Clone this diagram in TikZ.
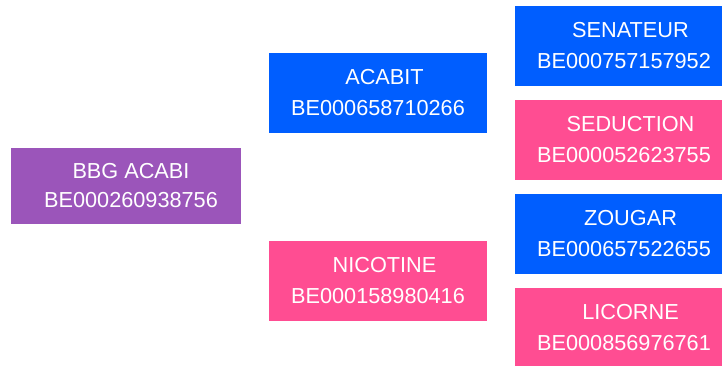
\documentclass[tikz,border=0pt]{standalone}
\usepackage{fontspec}
\setmainfont{Liberation Sans}
\definecolor{shareblue}{RGB}{0,94,255}
\definecolor{sharepink}{RGB}{255,77,146}
\definecolor{sharepurple}{RGB}{155,85,186}
\newcommand{\sharename}[1]{\hspace*{13pt}#1}
\tikzset{
	share/.style={inner sep=0pt, text=white, align=center, font=\fontsize{21.7}{31}\selectfont,
		minimum width=218pt, minimum height=80pt},
	bluebox/.style={share, fill=shareblue},
	pinkbox/.style={share, fill=sharepink},
	purplebox/.style={share, fill=sharepurple, minimum width=230pt, minimum height=76pt,
		font=\fontsize{21.7}{29}\selectfont}
}
\begin{document}
\begin{tikzpicture}[x=1pt, y=-1pt]
		\useasboundingbox (0,0) rectangle (722,365);
		
		\node (BBG) at (126,185.5) [purplebox] {\hspace*{10pt}BBG ACABI\\\hspace*{10pt}BE000260938756};
		
		\node (ACA) at (378,92.5) [bluebox] {\sharename{ACABIT}\\BE000658710266};
		\node (NIC) at (378,281) [pinkbox] {\sharename{NICOTINE}\\BE000158980416};
		
		\node (SEN) at (624,45.5) [bluebox] {\sharename{SENATEUR}\\BE000757157952};
		\node (SED) at (624,139.5) [pinkbox] {\sharename{SEDUCTION}\\BE000052623755};
		\node (ZOU) at (624,233.5) [bluebox] {\sharename{ZOUGAR}\\BE000657522655};
		\node (LIC) at (624,327.5) [pinkbox] {\sharename{LICORNE}\\BE000856976761};
		\end{tikzpicture}
\end{document}
